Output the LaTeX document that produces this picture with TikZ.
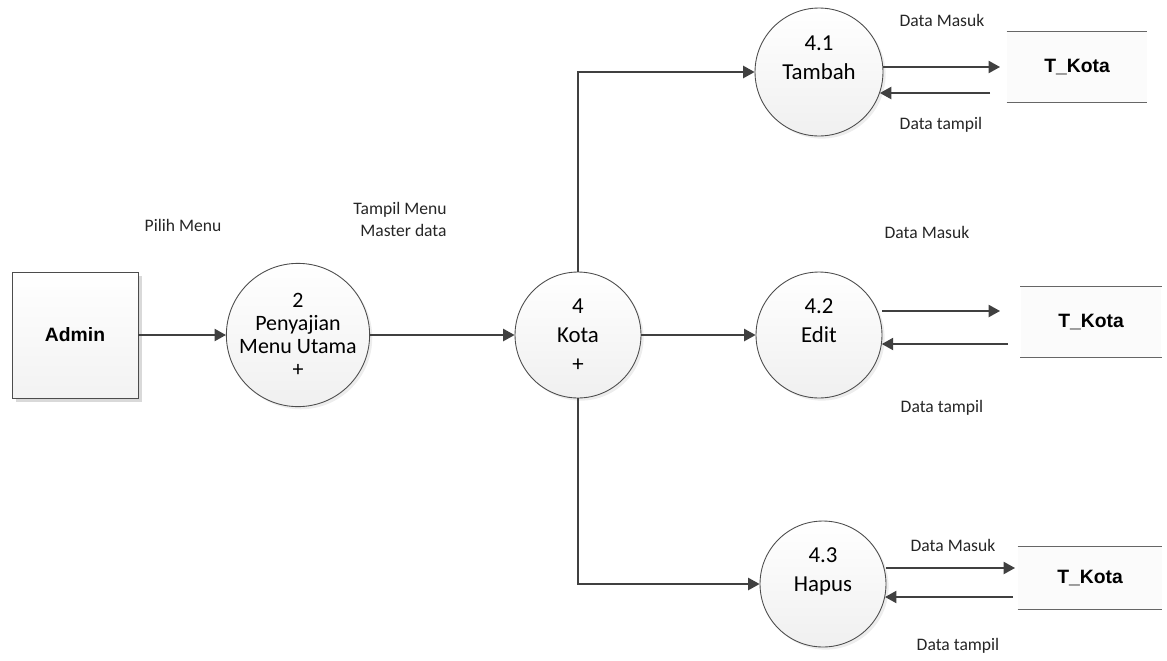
\documentclass[tikz,border=0pt]{standalone}
\usepackage{fontspec}
\setmainfont{Carlito}
\newfontfamily\boldsans{Liberation Sans}
\usepackage{tikz}
\usetikzlibrary{arrows.meta,shadows}

\begin{document}
\begin{tikzpicture}[
  x=0.02cm, y=-0.02cm,
  entity/.style={rectangle, draw=black!70, line width=0.5pt, top color=white,
    bottom color=gray!10, minimum size=2.52cm, inner sep=0pt,
    font=\boldsans\bfseries\fontsize{11}{13}\selectfont,
    drop shadow={shadow xshift=2.3pt, shadow yshift=-2.3pt, fill=gray!30, opacity=1}},
  proc/.style={circle, draw=black!70, line width=0.5pt, top color=white,
    bottom color=gray!12, align=center, inner sep=0pt,
    font=\fontsize{13}{16.5}\selectfont,
    drop shadow={shadow xshift=1.5pt, shadow yshift=-1.5pt, fill=gray!40, opacity=.35}},
  store/.style={rectangle, fill=gray!3, inner sep=0pt,
    font=\boldsans\bfseries\fontsize{11}{13}\selectfont},
  storeline/.style={draw=black!60, line width=0.7pt},
  lbl/.style={inner sep=0pt, text=black!85, font=\fontsize{10}{12.5}\selectfont},
  flow/.style={draw=black!75, line width=0.8pt, -{Triangle[length=6.5pt,width=7pt]}}
]
  \useasboundingbox (0,0) rectangle (1167,660);

  % processes and entity
  \node[entity] (admin) at (75,335) {Admin};
  \node[proc, minimum size=2.8cm, font=\fontsize{12.5}{13}\selectfont] (p2) at (298,335)
    {2\\Penyajian\\Menu Utama\\+};
  \node[proc, minimum size=2.52cm] (p4) at (578,335) {4\\Kota\\+};
  \node[proc, minimum size=2.56cm] (p41) at (819,72) {4.1\\Tambah\\\phantom{+}};
  \node[proc, minimum size=2.52cm] (p42) at (819,335) {4.2\\Edit\\\phantom{+}};
  \node[proc, minimum size=2.52cm] (p43) at (823,584) {4.3\\Hapus\\\phantom{+}};

  % data stores
  \node[store, minimum width=2.8cm, minimum height=1.4cm] (t1) at (1077,67) {T\_Kota};
  \node[store, minimum width=2.82cm, minimum height=1.4cm] (t2) at (1091,322) {T\_Kota};
  \node[store, minimum width=2.88cm, minimum height=1.26cm] (t3) at (1090,578) {T\_Kota};
  \foreach \s in {t1,t2,t3}
    \draw[storeline] (\s.north west) -- (\s.north east) (\s.south west) -- (\s.south east);

  % labels
  \node[lbl] (lpilih) at (183,225) {Pilih Menu};
  \node[lbl, align=right] (ltampil) at (400,219) {Tampil Menu\\Master data};
  \node[lbl] (lm1) at (942,20) {Data Masuk};
  \node[lbl] (lt1) at (941,125) {Data tampil};
  \node[lbl] (lm2) at (927,232) {Data Masuk};
  \node[lbl] (lt2) at (942,408) {Data tampil};
  \node[lbl] (lm3) at (953,545) {Data Masuk};
  \node[lbl] (lt3) at (958,646) {Data tampil};

  % flows
  \draw[flow] (admin) -- (p2);
  \draw[flow] (p2) -- (p4);
  \draw[flow] (p4) -- (p42);
  \draw[flow] (p4.north) |- (p41.west);
  \draw[flow] (p4.south) |- (p43.west);

  \coordinate (in1) at (1000,67);
  \coordinate (out1) at (990,93);
  \coordinate (in2) at (1000,311);
  \coordinate (out2) at (1008,344);
  \coordinate (in3) at (1015,568);
  \coordinate (out3) at (1013,597);
  \draw[flow] (p41.east |- in1) -- (in1);
  \draw[flow] (out1) -- (out1 -| p41.-19);
  \draw[flow] (p42.east |- in2) -- (in2);
  \draw[flow] (out2) -- (out2 -| p42.-8);
  \draw[flow] (p43.east |- in3) -- (in3);
  \draw[flow] (out3) -- (out3 -| p43.-12);
\end{tikzpicture}
\end{document}
